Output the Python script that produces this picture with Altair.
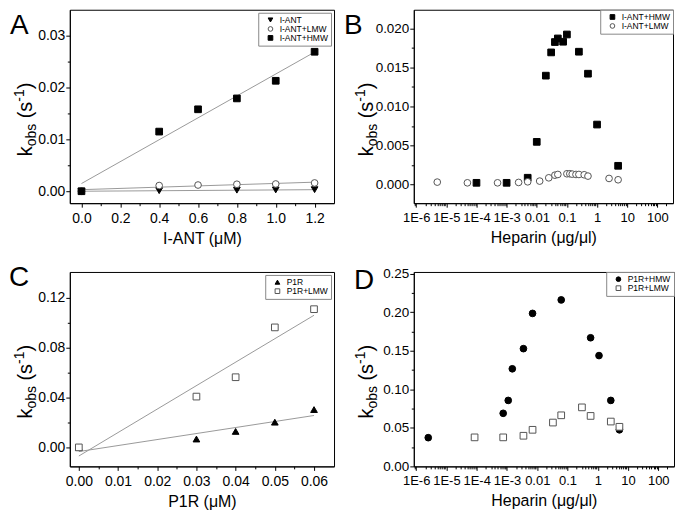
import math
import altair as alt
import pandas as pd

FONT = "Liberation Sans"
LETTER_FONT = "Liberation Sans"

# ---------------- data ----------------
# Panel A : kobs vs I-ANT concentration
a_names = ["I-ANT", "I-ANT+LMW", "I-ANT+HMW"]
a_ant_x = [0.0, 0.4, 0.8, 1.0, 1.2]
a_ant_y = [0.0, 0.0001, 0.0002, 0.00025, 0.0003]
a_lmw_x = [0.0, 0.4, 0.6, 0.8, 1.0, 1.2]
a_lmw_y = [0.0, 0.0011, 0.0012, 0.00135, 0.0014, 0.0016]
a_hmw_x = [0.0, 0.4, 0.6, 0.8, 1.0, 1.2]
a_hmw_y = [0.0, 0.0115, 0.0158, 0.0179, 0.0213, 0.0269]

# Panel B : kobs vs heparin (I-ANT)
b_names = ["I-ANT+HMW", "I-ANT+LMW"]
b_hmw_x = [1e-4, 1e-3, 5e-3, 0.01, 0.02, 0.03, 0.04, 0.05, 0.075, 0.1, 0.25, 0.5, 1.0, 5.0]
b_hmw_y = [0.00021, 0.00021, 0.00086, 0.00546, 0.01395, 0.01693, 0.01826, 0.01872,
           0.0183, 0.01923, 0.01702, 0.0142, 0.00768, 0.00239]
b_lmw_x = [5e-6, 5e-5, 5e-4, 2.5e-3, 5e-3, 0.0125, 0.025, 0.04, 0.05, 0.1, 0.125,
           0.15, 0.2, 0.25, 0.375, 0.5, 2.5, 5.0]
b_lmw_y = [0.0003, 0.00021, 0.00021, 0.00026, 0.00034, 0.00043, 0.00085, 0.00119,
           0.00128, 0.00137, 0.00137, 0.00132, 0.00128, 0.00128, 0.00124, 0.00107,
           0.00077, 0.0006]

# Panel C : kobs vs P1R concentration
c_names = ["P1R", "P1R+LMW"]
c_p1r_x = [0.0, 0.03, 0.04, 0.05, 0.06]
c_p1r_y = [0.0, 0.0067, 0.0128, 0.0202, 0.0303]
c_lmw_x = [0.0, 0.03, 0.04, 0.05, 0.06]
c_lmw_y = [0.0, 0.0407, 0.0562, 0.0961, 0.1107]

# Panel D : kobs vs heparin (P1R)
d_names = ["P1R+HMW", "P1R+LMW"]
d_hmw_x = [2.5e-6, 7.5e-4, 1.1e-3, 1.5e-3, 3.5e-3, 7e-3, 0.062, 0.58, 1.1, 2.7, 5.2]
d_hmw_y = [0.0372, 0.0688, 0.0855, 0.1265, 0.1526, 0.1983, 0.2158, 0.1667, 0.1436, 0.0855, 0.0474]
d_lmw_x = [8.5e-5, 7.5e-4, 3.5e-3, 7e-3, 0.033, 0.062, 0.3, 0.58, 2.7, 5.2]
d_lmw_y = [0.0376, 0.0376, 0.0397, 0.0474, 0.0568, 0.0662, 0.0765, 0.0654, 0.0581, 0.0513]


def series_df(fld, parts):
    rows = []
    for name, xs, ys in parts:
        for xv, yv in zip(xs, ys):
            rows.append({"x": xv, "y": yv, fld: name})
    return pd.DataFrame(rows)


df_a = series_df("sa", [("I-ANT", a_ant_x, a_ant_y), ("I-ANT+LMW", a_lmw_x, a_lmw_y),
                        ("I-ANT+HMW", a_hmw_x, a_hmw_y)])
df_b = series_df("sb", [("I-ANT+HMW", b_hmw_x, b_hmw_y), ("I-ANT+LMW", b_lmw_x, b_lmw_y)])
df_c = series_df("sc", [("P1R", c_p1r_x, c_p1r_y), ("P1R+LMW", c_lmw_x, c_lmw_y)])
df_d = series_df("sd", [("P1R+HMW", d_hmw_x, d_hmw_y), ("P1R+LMW", d_lmw_x, d_lmw_y)])

ONE = pd.DataFrame({"z": [0]})
CW = {"k": .5, "o": .556, "b": .556, "s": .5, " ": .278, "(": .333, ")": .333, "-": .333, "1": .556}


def text_width(t, fs):
    return sum(CW.get(c, .556) for c in t) * fs


def label_layer(text, x, y, size, font=FONT, angle=0, baseline="alphabetic"):
    return alt.Chart(ONE).mark_text(
        text=text, font=font, fontSize=size, angle=angle, align="left",
        baseline=baseline, color="black"
    ).encode(x=alt.value(x), y=alt.value(y))


def ytitle(base_x, start_y):
    # (text, font size, baseline shift, gap after)
    pieces = [("k", 20, 0, 0), ("obs", 14, 4, 5.5), ("(s", 20, 0, 0), ("-1", 14, -8, 0), (")", 20, 0, 0)]
    layers = []
    yy = start_y
    for t, fs, sh, gap in pieces:
        layers.append(label_layer(t, base_x + sh, yy, fs, angle=270))
        yy -= text_width(t, fs) + gap
    return layers


def axis_style(label_size):
    return dict(domainColor="black", tickColor="black", labelColor="black", titleColor="black",
                labelFont=FONT, labelFontSize=label_size, titleFont=FONT, titleFontSize=16,
                titleFontWeight="normal", grid=False, labelFlush=False, labelOverlap=False,
                tickWidth=1, domainWidth=1)


def lin_axis(orient, lo, hi, major, minor, fmt, title=None, label_size=14, **kw):
    n0 = math.ceil(lo / minor - 1e-9)
    n1 = math.floor(hi / minor + 1e-9)
    span = hi - lo
    vals = []
    for k in range(n0, n1 + 1):
        v = round(k * minor, 10)
        is_major = abs(v / major - round(v / major)) < 1e-6
        if is_major or (lo + 0.03 * span < v < hi - 0.03 * span):
            vals.append(v)
    test = f"abs(datum.value/{major} - round(datum.value/{major})) < 1e-6"
    return alt.Axis(orient=orient, values=vals,
                    labelExpr=f"({test}) ? format(datum.value, '{fmt}') : ''",
                    tickSize={"condition": {"test": test, "value": 4}, "value": 2.5},
                    title=title, **axis_style(label_size), **kw)


def log_axis(lo_exp, hi_exp, title, **kw):
    vals = []
    for e in range(-7, 3):
        for m in range(1, 10):
            v = m * 10.0 ** e
            if lo_exp <= math.log10(v) <= hi_exp - 0.05:
                vals.append(v)
    ee = "round(log(datum.value)/LN10)"
    test = f"abs(log(datum.value)/LN10 - {ee}) < 1e-6"
    lab = (f"({test}) ? ({ee} <= -3 ? '1E' + {ee} : {ee} == -2 ? '0.01' : {ee} == -1 ? '0.1' : "
           f"{ee} == 0 ? '1' : {ee} == 1 ? '10' : '100') : ''")
    return alt.Axis(orient="bottom", values=vals, labelExpr=lab,
                    tickSize={"condition": {"test": test, "value": 4}, "value": 2.5},
                    title=title, **axis_style(13), **kw)


def legend(offset):
    return alt.Legend(title=None, orient="top-right", offset=offset, strokeColor="#888",
                      fillColor="white", padding=3, labelFont=FONT, labelFontSize=8.5,
                      labelColor="black", symbolSize=22, symbolStrokeWidth=1, rowPadding=-2,
                      symbolOpacity=1, labelOffset=5, symbolOffset=5)


def panel(df, fld, names, shapes, fills, strokes, xscale, yscale, xaxis, yaxis,
          width, height, letter, letter_x, letter_y, title_x, leg_offset, fit):
    leg = legend(leg_offset)
    layers = []
    if fit:
        layers.append(
            alt.Chart(df).transform_regression("x", "y", groupby=[fld])
            .mark_line(color="#9a9a9a", strokeWidth=1)
            .encode(x=alt.X("x:Q", scale=xscale, axis=xaxis),
                    y=alt.Y("y:Q", scale=yscale, axis=yaxis),
                    detail=f"{fld}:N")
        )
    layers.append(
        alt.Chart(df).mark_point(size=45, opacity=1, strokeWidth=1).encode(
            x=alt.X("x:Q", scale=xscale, axis=xaxis),
            y=alt.Y("y:Q", scale=yscale, axis=yaxis),
            shape=alt.Shape(f"{fld}:N", scale=alt.Scale(domain=names, range=shapes), legend=leg),
            fill=alt.Fill(f"{fld}:N", scale=alt.Scale(domain=names, range=fills), legend=leg),
            stroke=alt.Stroke(f"{fld}:N", scale=alt.Scale(domain=names, range=strokes), legend=leg),
        )
    )
    layers.append(label_layer(letter, letter_x, letter_y, 28, font=LETTER_FONT, baseline="top"))
    layers += ytitle(title_x, 147)
    return alt.layer(*layers).properties(width=width, height=height)


OPEN = "#555555"

# Panel A
ax_lo, ax_hi, ay_lo, ay_hi = -0.06, 1.3, -0.0023, 0.035
pA = panel(df_a, "sa", a_names, ["triangle-down", "circle", "square"], ["black", "white", "black"],
           ["black", OPEN, "black"],
           alt.Scale(domain=[ax_lo, ax_hi], nice=False, zero=False),
           alt.Scale(domain=[ay_lo, ay_hi], nice=False, zero=False),
           lin_axis("bottom", ax_lo, ax_hi, 0.2, 0.1, ".1f", "I-ANT (\u03bcM)",
                    labelPadding=4, titlePadding=5),
           lin_axis("left", ay_lo, ay_hi, 0.01, 0.005, ".2f", labelPadding=1),
           265, 194, "A", -60, 2, -38, 3, True)

# Panel B
blo, bhi = -6.08, 2.52
by_lo, by_hi = -0.0024, 0.0224
pB = panel(df_b, "sb", b_names, ["square", "circle"], ["black", "white"], ["black", OPEN],
           alt.Scale(type="log", domain=[10 ** blo, 10 ** bhi], nice=False),
           alt.Scale(domain=[by_lo, by_hi], nice=False, zero=False),
           log_axis(blo, bhi, "Heparin (\u03bcg/\u03bcl)", labelPadding=4, titlePadding=5),
           lin_axis("left", by_lo, by_hi, 0.005, 0.0025, ".3f", label_size=13.5, labelPadding=1),
           260, 194, "B", -70, 2, -41, 0, False)

# Panel C
cx_lo, cx_hi, cy_lo, cy_hi = -0.0023, 0.0651, -0.0152, 0.1405
pC = panel(df_c, "sc", c_names, ["triangle-up", "square"], ["black", "white"], ["black", OPEN],
           alt.Scale(domain=[cx_lo, cx_hi], nice=False, zero=False),
           alt.Scale(domain=[cy_lo, cy_hi], nice=False, zero=False),
           lin_axis("bottom", cx_lo, cx_hi, 0.01, 0.005, ".2f", "P1R  (\u03bcM)",
                    labelPadding=4, titlePadding=5),
           lin_axis("left", cy_lo, cy_hi, 0.04, 0.02, ".2f", labelPadding=1),
           265, 195, "C", -61, -8, -38, 3, True)

# Panel D
dy_lo, dy_hi = 0.0, 0.252
pD = panel(df_d, "sd", d_names, ["circle", "square"], ["black", "white"], ["black", OPEN],
           alt.Scale(type="log", domain=[10 ** blo, 10 ** bhi], nice=False),
           alt.Scale(domain=[dy_lo, dy_hi], nice=False, zero=False),
           log_axis(blo, bhi, "Heparin (\u03bcg/\u03bcl)", labelPadding=4, titlePadding=5),
           lin_axis("left", dy_lo, dy_hi, 0.05, 0.025, ".2f", label_size=13.5, labelPadding=1),
           261, 195, "D", -60, -5, -41, 0, False)

ind = dict(shape="independent", fill="independent", stroke="independent")

chart = (
    alt.concat(pA, pB, pC, pD, columns=2, bounds="flush",
               spacing={"row": 69, "column": 80})
    .resolve_scale(**ind)
    .properties(padding={"left": 0, "top": 0, "right": 0, "bottom": 0})
    .configure_view(stroke="black", strokeWidth=1)
)

chart.save("out.html", embed_options={"renderer": "svg", "actions": False})
